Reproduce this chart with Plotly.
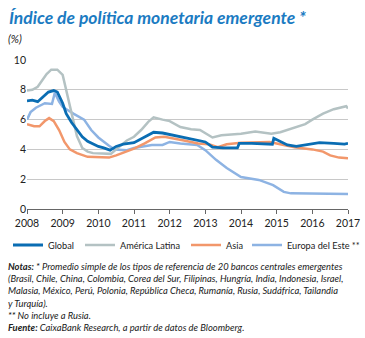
import plotly.graph_objects as go

# ---- data ----
years_ticks = [2008, 2009, 2010, 2011, 2012, 2013, 2014, 2015, 2016, 2017]
tick_labels = [str(y) for y in years_ticks]

global_x = [2008.0, 2008.15, 2008.3, 2008.45, 2008.6, 2008.75, 2008.85, 2009.0, 2009.1, 2009.25, 2009.4, 2009.55,
            2009.7, 2009.85, 2010.0, 2010.15, 2010.33, 2010.5, 2010.7, 2011.0, 2011.2, 2011.4, 2011.55, 2011.8,
            2012.0, 2012.3, 2012.6, 2012.8, 2013.0, 2013.2, 2013.5, 2013.9, 2013.95, 2014.3, 2014.6, 2014.88,
            2014.92, 2015.1, 2015.3, 2015.55, 2015.8, 2016.2, 2016.6, 2016.9, 2017.0]
global_y = [7.25, 7.3, 7.2, 7.5, 7.85, 7.95, 7.85, 7.1, 6.4, 5.8, 5.3, 4.85, 4.55, 4.35, 4.2, 4.1, 3.95, 4.2,
            4.35, 4.45, 4.7, 5.0, 5.15, 5.1, 5.0, 4.85, 4.7, 4.6, 4.5, 4.15, 4.1, 4.1, 4.4, 4.4, 4.35, 4.35,
            4.75, 4.55, 4.3, 4.2, 4.3, 4.45, 4.4, 4.35, 4.4]

latam_x = [2008.0, 2008.15, 2008.3, 2008.45, 2008.55, 2008.68, 2008.85, 2009.0, 2009.1, 2009.25, 2009.4, 2009.55,
           2009.7, 2009.85, 2010.1, 2010.35, 2010.55, 2010.8, 2011.0, 2011.2, 2011.4, 2011.55, 2011.8, 2012.0,
           2012.3, 2012.6, 2012.85, 2013.2, 2013.45, 2013.7, 2014.0, 2014.4, 2014.85, 2015.1, 2015.5, 2015.8,
           2016.0, 2016.3, 2016.6, 2016.95, 2017.0]
latam_y = [7.95, 8.0, 8.2, 8.7, 9.05, 9.35, 9.35, 9.0, 8.0, 6.3, 4.9, 4.1, 3.85, 3.75, 3.7, 3.7, 4.1, 4.6,
           4.85, 5.3, 5.85, 6.15, 6.0, 5.9, 5.5, 5.35, 5.3, 4.8, 4.95, 5.0, 5.05, 5.2, 5.05, 5.15, 5.45, 5.7,
           6.0, 6.4, 6.7, 6.9, 6.75]

asia_x = [2008.0, 2008.2, 2008.35, 2008.5, 2008.62, 2008.75, 2008.9, 2009.05, 2009.2, 2009.4, 2009.7, 2010.0,
          2010.3, 2010.5, 2010.8, 2011.0, 2011.3, 2011.6, 2011.85, 2012.1, 2012.4, 2012.8, 2013.1, 2013.35,
          2013.6, 2014.0, 2014.4, 2014.8, 2015.1, 2015.5, 2016.0, 2016.3, 2016.5, 2016.75, 2017.0]
asia_y = [5.7, 5.55, 5.55, 5.9, 6.1, 5.9, 5.3, 4.5, 4.0, 3.75, 3.5, 3.45, 3.45, 3.6, 3.85, 4.05, 4.4, 4.8,
          4.85, 4.75, 4.6, 4.4, 4.35, 4.15, 4.35, 4.45, 4.45, 4.5, 4.35, 4.15, 4.0, 3.85, 3.6, 3.45, 3.4]

europa_x = [2008.0, 2008.1, 2008.25, 2008.5, 2008.7, 2008.78, 2008.9, 2009.0, 2009.3, 2009.6, 2009.8, 2010.0,
            2010.3, 2010.45, 2010.8, 2011.0, 2011.5, 2011.8, 2012.0, 2012.3, 2012.77, 2013.0, 2013.3, 2013.6,
            2014.0, 2014.5, 2014.9, 2015.2, 2015.4, 2016.0, 2016.3, 2017.0]
europa_y = [6.0, 6.5, 6.8, 7.1, 7.05, 7.8, 7.2, 6.85, 6.4, 6.0, 5.3, 4.8, 4.25, 4.0, 3.95, 4.1, 4.3, 4.3,
            4.5, 4.4, 4.3, 3.95, 3.3, 2.75, 2.15, 1.95, 1.6, 1.15, 1.05, 1.05, 1.0, 1.0]

series = [
    ("Global", global_x, global_y, "#0a6db3", 2.8, "legend"),
    ("América Latina", latam_x, latam_y, "#b4c2c3", 2.5, "legend2"),
    ("Asia", asia_x, asia_y, "#f2976b", 2.5, "legend3"),
    ("Europa del Este **", europa_x, europa_y, "#8db3e3", 2.5, "legend4"),
]

FONT = "Lato"
TEXT = "#222222"

fig = go.Figure()
# draw order: Europa, Asia, Latam, Global on top
for name, xs, ys, col, w, lg in [series[3], series[2], series[1], series[0]]:
    fig.add_trace(go.Scatter(x=xs, y=ys, mode="lines", name=name,
                             line=dict(color=col, width=w), legend=lg))

legend_common = dict(orientation="h", xref="container", yref="container", yanchor="middle",
                     xanchor="left", bgcolor="rgba(0,0,0,0)", font=dict(family=FONT, size=9.2, color=TEXT),
                     itemwidth=30)
leg_px = [8, 80, 186, 247]
lay = {}
for i, key in enumerate(["legend", "legend2", "legend3", "legend4"]):
    lay[key] = dict(legend_common, x=leg_px[i] / 365, y=1 - 245 / 338)

fig.update_layout(
    width=365, height=338,
    margin=dict(l=27, r=17, t=60, b=129, autoexpand=False),
    paper_bgcolor="white", plot_bgcolor="white",
    showlegend=True,
    xaxis=dict(range=[2008, 2017], tickvals=years_ticks, ticktext=tick_labels,
               showgrid=False, zeroline=False, showline=True, linecolor="#666666", linewidth=1,
               ticks="outside", ticklen=4, tickcolor="#666666",
               tickfont=dict(family=FONT, size=10.5, color=TEXT)),
    yaxis=dict(range=[0, 10], tickvals=[0, 2, 4, 6, 8, 10], showgrid=True, gridcolor="#c8c8c8",
               gridwidth=1, zeroline=False, showline=False, ticks="",
               tickfont=dict(family=FONT, size=10.5, color=TEXT)),
    **lay,
)

fig.add_annotation(xref="paper", yref="paper", x=-20 / 321, y=1 + 42 / 149, xanchor="left", yanchor="middle",
                   text="<b><i>Índice de política monetaria emergente *</i></b>", showarrow=False,
                   font=dict(family=FONT, size=17.5, color="#1b7bc2"))
fig.add_annotation(xref="paper", yref="paper", x=-21 / 321, y=1 + 22 / 149, xanchor="left", yanchor="middle",
                   text="<i>(%)</i>", showarrow=False, font=dict(family=FONT, size=11, color=TEXT))

notes = ("<b><i>Notas:</i></b><i> * Promedio simple de los tipos de referencia de 20 bancos centrales emergentes<br>"
         "(Brasil, Chile, China, Colombia, Corea del Sur, Filipinas, Hungría, India, Indonesia, Israel,<br>"
         "Malasia, México, Perú, Polonia, República Checa, Rumanía, Rusia, Sudáfrica, Tailandia<br>"
         "y Turquía).<br>"
         "** No incluye a Rusia.<br></i>"
         "<b><i>Fuente:</i></b><i> CaixaBank Research, a partir de datos de Bloomberg.</i>")
fig.add_annotation(xref="paper", yref="paper", x=-21 / 321, y=-(259 - 209) / 149, xanchor="left", yanchor="top",
                   align="left", text=notes, showarrow=False,
                   font=dict(family=FONT, size=9.4, color=TEXT))

fig.write_html("out.html")
